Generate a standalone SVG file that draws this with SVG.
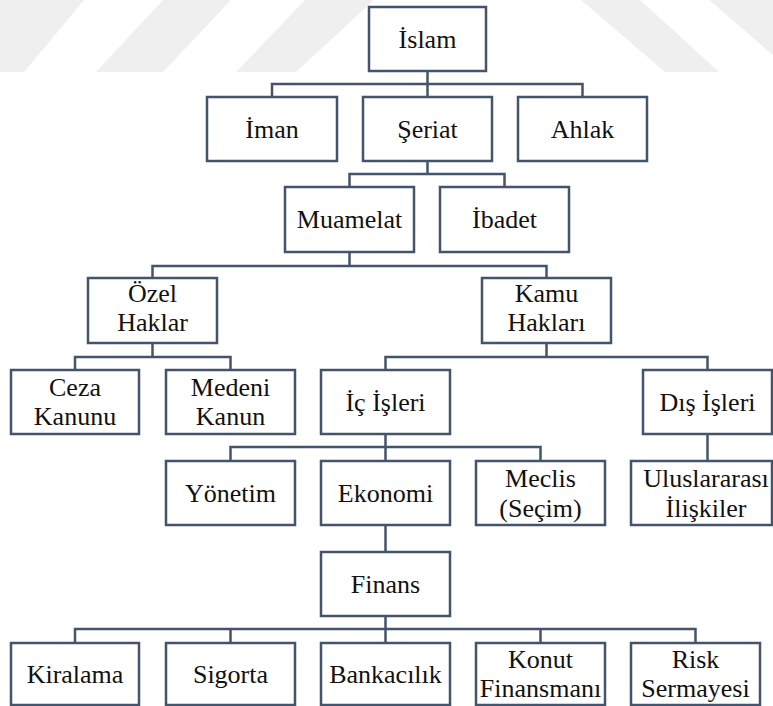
<svg xmlns="http://www.w3.org/2000/svg" width="773" height="706" viewBox="0 0 773 706">
  <style>
    .box rect { fill: #ffffff; stroke: #44546A; stroke-width: 2.5; }
    .box text { font-family: "Liberation Serif", "Times New Roman", serif; font-size: 26px; fill: #111111; text-anchor: middle; }
    #connectors path { fill: none; stroke: #44546A; stroke-width: 2.5; }
    .wm { fill: #efefef; }
  </style>
  <rect x="0" y="0" width="773" height="706" fill="#ffffff"/>

  <!-- faint background bands -->
  <g id="background">
    <polygon class="wm" points="0,0 84,0 24,72 0,72"/>
    <polygon class="wm" points="163,0 231,0 163,72 96,72"/>
    <polygon class="wm" points="305,0 374,0 296,72 236,72"/>
    <polygon class="wm" points="581,0 640,0 719,72 665,72"/>
    <polygon class="wm" points="709,0 773,0 773,55"/>
  </g>

  <!-- connectors -->
  <g id="connectors">
    <path d="M427.5,71 V84 M272,97 V84 H582.5 V97 M427.5,84 V97"/>
    <path d="M427.5,161 V174 M349.5,187 V174 H504.5 V187"/>
    <path d="M349.5,252 V266 M152.5,278 V266 H546.5 V278"/>
    <path d="M152.5,343 V357 M75,370 V357 H230.5 V370"/>
    <path d="M546.5,343 V357 M385.5,370 V357 H707.5 V370"/>
    <path d="M385.5,434 V447 M230.5,461 V447 H540.5 V461 M385.5,447 V461"/>
    <path d="M707.5,434 V461"/>
    <path d="M385.5,525 V552"/>
    <path d="M385.5,616 V629 M75,643 V629 H695.5 V643 M230.5,629 V643 M540.5,629 V643 M385.5,629 V643"/>
  </g>

  <!-- nodes -->
  <g id="islam" class="box"><rect x="369" y="7" width="117" height="64"/><text x="427.5" y="47.5">İslam</text></g>

  <g id="iman" class="box"><rect x="207" y="97" width="130" height="64"/><text x="272" y="137.5">İman</text></g>
  <g id="seriat" class="box"><rect x="363" y="97" width="129" height="64"/><text x="427.5" y="137.5">Şeriat</text></g>
  <g id="ahlak" class="box"><rect x="518" y="97" width="129" height="64"/><text x="582.5" y="137.5">Ahlak</text></g>

  <g id="muamelat" class="box"><rect x="285" y="187" width="129" height="65"/><text x="349.5" y="228">Muamelat</text></g>
  <g id="ibadet" class="box"><rect x="440" y="187" width="129" height="65"/><text x="504.5" y="228">İbadet</text></g>

  <g id="ozel-haklar" class="box"><rect x="88" y="278" width="129" height="65"/><text x="152.5" y="302">Özel</text><text x="152.5" y="330.5">Haklar</text></g>
  <g id="kamu-haklari" class="box"><rect x="482" y="278" width="129" height="65"/><text x="546.5" y="302">Kamu</text><text x="546.5" y="330.5">Hakları</text></g>

  <g id="ceza-kanunu" class="box"><rect x="11" y="370" width="128" height="64"/><text x="75" y="396">Ceza</text><text x="75" y="425">Kanunu</text></g>
  <g id="medeni-kanun" class="box"><rect x="166" y="370" width="129" height="64"/><text x="230.5" y="396">Medeni</text><text x="230.5" y="425">Kanun</text></g>
  <g id="ic-isleri" class="box"><rect x="321" y="370" width="129" height="64"/><text x="385.5" y="410.5">İç İşleri</text></g>
  <g id="dis-isleri" class="box"><rect x="643" y="370" width="129" height="64"/><text x="707.5" y="410.5">Dış İşleri</text></g>

  <g id="yonetim" class="box"><rect x="166" y="461" width="129" height="64"/><text x="230.5" y="501.5">Yönetim</text></g>
  <g id="ekonomi" class="box"><rect x="321" y="461" width="129" height="64"/><text x="385.5" y="501.5">Ekonomi</text></g>
  <g id="meclis" class="box"><rect x="476" y="461" width="129" height="64"/><text x="540.5" y="487">Meclis</text><text x="540.5" y="516.5">(Seçim)</text></g>
  <g id="uluslararasi" class="box"><rect x="631" y="461" width="141" height="64"/><text x="706" y="487">Uluslararası</text><text x="706" y="516.5">İlişkiler</text></g>

  <g id="finans" class="box"><rect x="321" y="552" width="129" height="64"/><text x="385.5" y="592.5">Finans</text></g>

  <g id="kiralama" class="box"><rect x="11" y="643" width="128" height="62"/><text x="75" y="682.5">Kiralama</text></g>
  <g id="sigorta" class="box"><rect x="166" y="643" width="129" height="62"/><text x="230.5" y="682.5">Sigorta</text></g>
  <g id="bankacilik" class="box"><rect x="321" y="643" width="129" height="62"/><text x="385.5" y="682.5">Bankacılık</text></g>
  <g id="konut-finansmani" class="box"><rect x="476" y="643" width="129" height="62"/><text x="540.5" y="668">Konut</text><text x="540.5" y="697">Finansmanı</text></g>
  <g id="risk-sermayesi" class="box"><rect x="631" y="643" width="129" height="62"/><text x="695.5" y="668">Risk</text><text x="695.5" y="697">Sermayesi</text></g>
</svg>
